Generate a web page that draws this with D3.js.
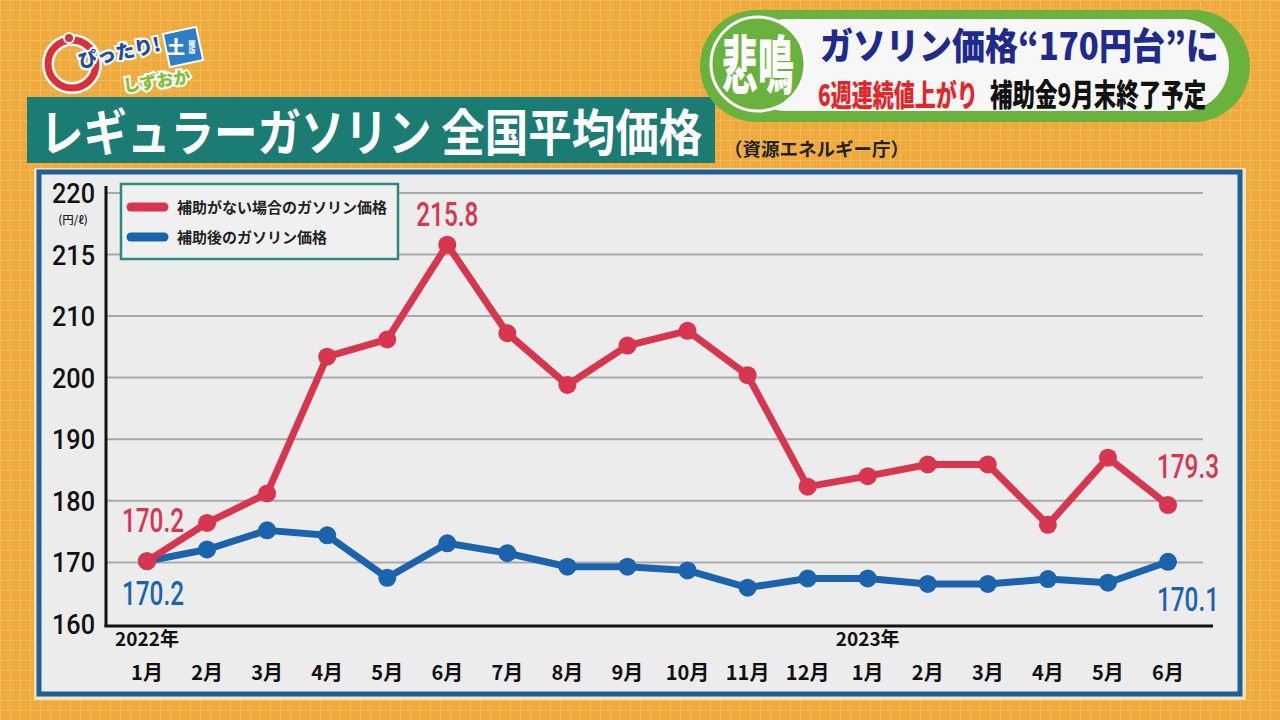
<!DOCTYPE html>
<html><head><meta charset="utf-8">
<script src="https://cdn.jsdelivr.net/npm/d3@7"></script>
<style>body{margin:0;background:#efaa3d;overflow:hidden}</style>
</head><body>
<svg id="c" width="1280" height="720"></svg>
<script>
// ---- data ----
const months = ["1月","2月","3月","4月","5月","6月","7月","8月","9月","10月","11月","12月","1月","2月","3月","4月","5月","6月"];
const yearLabels = [{i:0,t:"2022年"},{i:12,t:"2023年"}];
const noSubsidy = [170.2,176.4,181.2,203.4,206.2,215.8,207.2,198.8,205.2,207.6,200.4,182.3,184.0,185.9,185.9,176.1,187.0,179.3];
const withSubsidy = [170.2,172.1,175.2,174.4,167.5,173.1,171.5,169.3,169.3,168.7,165.9,167.4,167.4,166.5,166.5,167.3,166.7,170.1];
const yTicks = [160,170,180,190,200,210,215,220];
const seriesNames = ["補助がない場合のガソリン価格","補助後のガソリン価格"];
const valueLabels = [
  {s:0,i:5,t:"215.8"},{s:0,i:0,t:"170.2"},{s:1,i:0,t:"170.2"},{s:0,i:17,t:"179.3"},{s:1,i:17,t:"170.1"}
];
const title = "レギュラーガソリン 全国平均価格";
const source = "（資源エネルギー庁）";

const RED = "#d8354f", BLUE = "#1c63ad";
const JP = "'Noto Sans CJK JP','Noto Sans',sans-serif";
const NUM = "Roboto,'Noto Sans',sans-serif";

const svg = d3.select("#c");
const defs = svg.append("defs");
const pat = defs.append("pattern").attr("id","grid").attr("width",10).attr("height",10).attr("patternUnits","userSpaceOnUse");
pat.append("rect").attr("width",10).attr("height",10).attr("fill","#efaa3d");
pat.append("path").attr("d","M0 0.5H10M0.5 0V10").attr("stroke","#f6c56e").attr("stroke-width",1).attr("opacity",0.6);
svg.append("rect").attr("width",1280).attr("height",720).attr("fill","url(#grid)");

// helper: text stretched vertically
function tallText(parent, tx, ty, sy, str, size, fill, anchor){
  return parent.append("text").attr("transform",`translate(${tx},${ty}) scale(1,${sy})`)
    .attr("x",0).attr("y",0).text(str).attr("font-family",JP).attr("font-weight",900)
    .attr("font-size",size).attr("fill",fill).attr("text-anchor",anchor||"start");
}

// ---- logo ----
const logo = svg.append("g");
logo.append("circle").attr("cx",72).attr("cy",64).attr("r",24).attr("fill","none").attr("stroke","#fff").attr("stroke-width",12);
logo.append("circle").attr("cx",72).attr("cy",64).attr("r",24).attr("fill","none").attr("stroke","#d9303a").attr("stroke-width",7);
logo.append("circle").attr("cx",69).attr("cy",38).attr("r",5).attr("fill","#d9303a").attr("stroke","#fff").attr("stroke-width",2);
logo.append("text").attr("x",80).attr("y",68).text("ぴったり!").attr("font-family",JP).attr("font-weight",900).attr("font-size",19)
  .attr("fill","#1d4fa0").attr("stroke","#fff").attr("stroke-width",4).attr("paint-order","stroke").attr("transform","rotate(-12 80 68)");
logo.append("rect").attr("x",166).attr("y",30).attr("width",34).attr("height",34).attr("fill","#2e7fc8").attr("stroke","#fff").attr("stroke-width",2).attr("transform","rotate(-12 183 47)");
logo.append("text").attr("x",176).attr("y",54).text("土").attr("font-family",JP).attr("font-weight",900).attr("font-size",18).attr("fill","#fff").attr("text-anchor","middle");
logo.append("text").attr("x",192).attr("y",40).text("曜版").attr("font-family",JP).attr("font-weight",700).attr("font-size",7).attr("fill","#fff").attr("writing-mode","tb");
logo.append("text").attr("x",124).attr("y",92).text("しずおか").attr("font-family",JP).attr("font-weight",900).attr("font-size",17)
  .attr("fill","#7fbf3a").attr("stroke","#fff").attr("stroke-width",4).attr("paint-order","stroke").attr("transform","rotate(-8 124 92)");

// ---- title bar ----
svg.append("rect").attr("x",27).attr("y",97).attr("width",688).attr("height",66).attr("fill","#1b7c73");
svg.append("text").attr("transform","translate(40,151) scale(1,1.16)").text(title).attr("font-family",JP).attr("font-weight",700)
  .attr("font-size",43.5).attr("fill","#fff");
svg.append("text").attr("x",724).attr("y",156).text(source).attr("font-family",JP).attr("font-weight",700).attr("font-size",18.5).attr("fill","#222");

// ---- top-right banner ----
const ban = svg.append("g");
ban.append("rect").attr("x",700).attr("y",10).attr("width",550).attr("height",112).attr("rx",56).attr("fill","#6ab23e");
ban.append("rect").attr("x",740).attr("y",19).attr("width",489).attr("height",92).attr("rx",46).attr("fill","#f7f7f7");
ban.append("circle").attr("cx",758).attr("cy",64).attr("r",47).attr("fill","#6ab23e").attr("stroke","#fff").attr("stroke-width",3);
tallText(ban, 758, 88, 1.75, "悲鳴", 36, "#fff", "middle");
tallText(ban, 820, 60, 1.12, "ガソリン価格“170円台”に", 33, "#1f2b8c");
tallText(ban, 818, 106, 1.4, "6週連続値上がり", 21, "#e3262a");
tallText(ban, 990, 106, 1.35, "補助金9月末終了予定", 22.5, "#111");

// ---- chart panel ----
svg.append("rect").attr("x",34).attr("y",168).attr("width",1212).attr("height",532).attr("fill","#f6e3b8");
svg.append("rect").attr("x",39).attr("y",172).attr("width",1201).attr("height",522).attr("fill","#ececec").attr("stroke","#1f5f9c").attr("stroke-width",5);

const x = d3.scalePoint().domain(d3.range(months.length)).range([147,1168]);
const y = d3.scaleLinear().domain([160,210,220]).range([624,316,193]);

const g = svg.append("g");
// gridlines
g.selectAll("line.grid").data(yTicks.filter(t=>t>160)).join("line").attr("class","grid")
  .attr("x1",107).attr("x2",1203).attr("y1",d=>y(d)).attr("y2",d=>y(d)).attr("stroke","#a9a9a9").attr("stroke-width",2);
// axes lines
g.append("line").attr("x1",106).attr("x2",106).attr("y1",186).attr("y2",627).attr("stroke","#111").attr("stroke-width",3);
g.append("line").attr("x1",104.5).attr("x2",1213).attr("y1",626).attr("y2",626).attr("stroke","#111").attr("stroke-width",3);
// y tick labels
g.selectAll("text.yt").data(yTicks).join("text").attr("class","yt")
  .attr("x",95).attr("y",d=>y(d)+10).attr("text-anchor","end").text(d=>d)
  .attr("font-family",NUM).attr("font-weight",500).attr("font-size",28).attr("fill","#111")
  .attr("textLength",43).attr("lengthAdjust","spacingAndGlyphs");
g.append("text").attr("x",73).attr("y",224).attr("text-anchor","middle").text("(円/ℓ)").attr("font-family",JP)
  .attr("font-size",11.5).attr("font-weight",500).attr("fill","#222");
// x labels
g.selectAll("text.xt").data(months).join("text").attr("class","xt")
  .attr("x",(d,i)=>x(i)).attr("y",680).attr("text-anchor","middle").text(d=>d)
  .attr("font-family",JP).attr("font-weight",700).attr("font-size",20).attr("fill","#111");
g.selectAll("text.yr").data(yearLabels).join("text").attr("class","yr")
  .attr("x",d=>x(d.i)).attr("y",646).attr("text-anchor","middle").text(d=>d.t)
  .attr("font-family",JP).attr("font-weight",700).attr("font-size",19).attr("fill","#111");

// lines
const line = d3.line().x((d,i)=>x(i)).y(d=>y(d));
[[withSubsidy,BLUE],[noSubsidy,RED]].forEach(([data,col])=>{
  g.append("path").datum(data).attr("d",line).attr("fill","none").attr("stroke",col).attr("stroke-width",7).attr("stroke-linejoin","round");
  g.selectAll(null).data(data).join("circle").attr("cx",(d,i)=>x(i)).attr("cy",d=>y(d)).attr("r",9).attr("fill",col);
});

// value labels
const series = [noSubsidy, withSubsidy];
const off = {"0-5":[0,-31],"0-0":[6,-41],"1-0":[6,32],"0-17":[20,-39],"1-17":[20,37]};
g.selectAll("text.vl").data(valueLabels).join("text").attr("class","vl")
  .attr("x",d=>x(d.i)+off[d.s+"-"+d.i][0]).attr("y",d=>y(series[d.s][d.i])+off[d.s+"-"+d.i][1]+12)
  .attr("text-anchor","middle").text(d=>d.t).attr("font-family",NUM).attr("font-weight",500).attr("font-size",33)
  .attr("fill",d=>d.s===0?RED:BLUE).attr("textLength",62).attr("lengthAdjust","spacingAndGlyphs");

// legend
const lg = svg.append("g");
lg.append("rect").attr("x",121).attr("y",184).attr("width",277).attr("height",75).attr("fill","#f0f0f0").attr("stroke","#2a8a80").attr("stroke-width",2.5);
seriesNames.forEach((n,i)=>{
  const yy = 207+i*30;
  lg.append("line").attr("x1",131).attr("x2",164).attr("y1",yy).attr("y2",yy).attr("stroke",[RED,BLUE][i]).attr("stroke-width",9).attr("stroke-linecap","round");
  lg.append("text").attr("x",177).attr("y",yy+5.5).text(n).attr("font-family",JP).attr("font-weight",700).attr("font-size",15).attr("fill","#222");
});
</script>
</body></html>
